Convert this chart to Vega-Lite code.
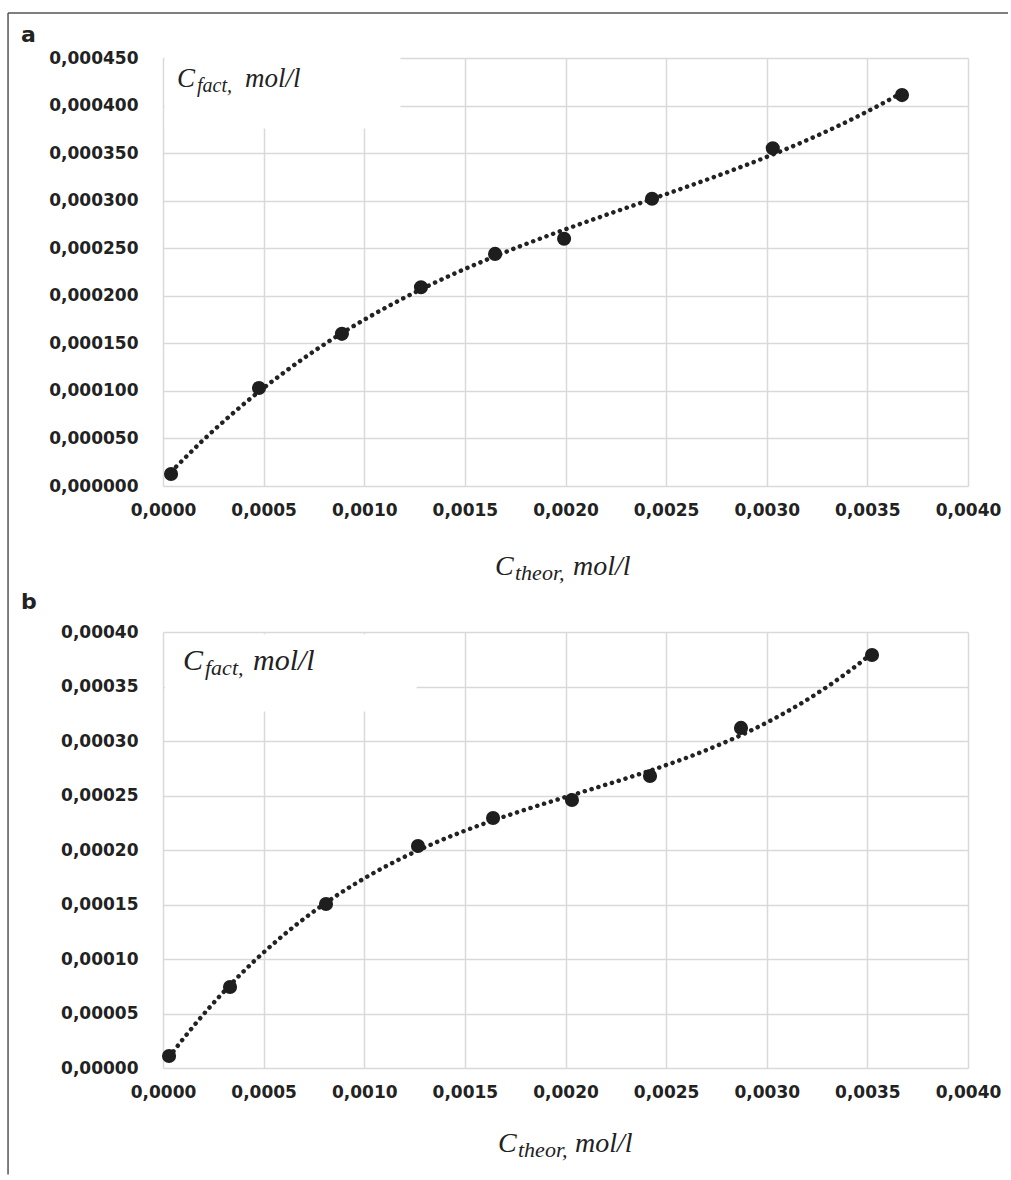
{
  "$schema": "https://vega.github.io/schema/vega-lite/v6.json",
  "background": "white",
  "padding": {"left": 7, "top": 12, "right": 0, "bottom": 0},
  "config": {
    "locale": {"number": {"decimal": ",", "thousands": " ", "grouping": [3], "currency": ["", ""]}},
    "view": {"stroke": null},
    "axis": {
      "grid": true, "gridColor": "#d9d9d9", "gridWidth": 1.5, "domain": false, "ticks": false,
      "labelFlush": false, "labelOverlap": false,
      "labelFont": "DejaVu Sans", "labelFontWeight": "bold", "labelFontSize": 17, "labelColor": "#222222", "title": null
    }
  },
  "datasets": {
    "a": [
      {"t": 0.00004, "c": 0.0000126},
      {"t": 0.000477, "c": 0.000103},
      {"t": 0.000889, "c": 0.00016},
      {"t": 0.001282, "c": 0.000209},
      {"t": 0.00165, "c": 0.000244},
      {"t": 0.001993, "c": 0.00026},
      {"t": 0.00243, "c": 0.000302},
      {"t": 0.00303, "c": 0.000355},
      {"t": 0.003672, "c": 0.000411}
    ],
    "b": [
      {"t": 0.00003, "c": 0.000011},
      {"t": 0.000333, "c": 0.0000743},
      {"t": 0.00081, "c": 0.0001505},
      {"t": 0.001267, "c": 0.0002037},
      {"t": 0.00164, "c": 0.0002294},
      {"t": 0.002032, "c": 0.0002459},
      {"t": 0.00242, "c": 0.0002679},
      {"t": 0.002872, "c": 0.000312},
      {"t": 0.003523, "c": 0.0003789}
    ]
  },
  "bounds": "flush",
  "spacing": 146,
  "vconcat": [
    {
      "width": 805,
      "height": 428,
      "layer": [
        {
          "data": {"values": [{}]},
          "mark": {"type": "rect", "fill": "white"},
          "encoding": {"x": {"datum": 0.000008}, "x2": {"datum": 0.00118}, "y": {"datum": 0.000376}, "y2": {"datum": 0.00046}}
        },
        {
          "data": {"name": "a"},
          "transform": [{"regression": "c", "on": "t", "method": "poly", "order": 3}],
          "mark": {"type": "line", "color": "#222222", "strokeWidth": 4.5, "strokeDash": [0.1, 7], "strokeCap": "round"},
          "encoding": {
            "x": {"field": "t", "type": "quantitative", "scale": {"domain": [0, 0.004]},
              "axis": {"values": [0, 0.0005, 0.001, 0.0015, 0.002, 0.0025, 0.003, 0.0035, 0.004], "format": ".4f", "labelPadding": 16}},
            "y": {"field": "c", "type": "quantitative", "scale": {"domain": [0, 0.00045]},
              "axis": {"values": [0, 0.00005, 0.0001, 0.00015, 0.0002, 0.00025, 0.0003, 0.00035, 0.0004, 0.00045], "format": ".6f", "labelPadding": 25}}
          }
        },
        {
          "data": {"name": "a"},
          "mark": {"type": "circle", "size": 200, "color": "#1e1e1e", "opacity": 1},
          "encoding": {
            "x": {"field": "t", "type": "quantitative", "scale": {"domain": [0, 0.004]}},
            "y": {"field": "c", "type": "quantitative", "scale": {"domain": [0, 0.00045]}}
          }
        },
        {
          "data": {"values": [{}]},
          "mark": {"type": "text", "text": "a", "font": "DejaVu Sans", "fontWeight": "bold", "fontSize": 22, "color": "#222222", "align": "left", "baseline": "alphabetic", "dx": -142, "dy": -16},
          "encoding": {"x": {"datum": 0}, "y": {"datum": 0.00045}}
        },
        {
          "data": {"values": [{}]},
          "mark": {"type": "text", "text": "C", "font": "Liberation Serif", "fontStyle": "italic", "fontSize": 27, "color": "#222222", "align": "left", "baseline": "alphabetic", "dx": 14, "dy": 29},
          "encoding": {"x": {"datum": 0}, "y": {"datum": 0.00045}}
        },
        {
          "data": {"values": [{}]},
          "mark": {"type": "text", "text": "fact,", "font": "Liberation Serif", "fontStyle": "italic", "fontSize": 20, "color": "#222222", "align": "left", "baseline": "alphabetic", "dx": 34, "dy": 34},
          "encoding": {"x": {"datum": 0}, "y": {"datum": 0.00045}}
        },
        {
          "data": {"values": [{}]},
          "mark": {"type": "text", "text": "mol/l", "font": "Liberation Serif", "fontStyle": "italic", "fontSize": 27, "color": "#222222", "align": "left", "baseline": "alphabetic", "dx": 82, "dy": 29},
          "encoding": {"x": {"datum": 0}, "y": {"datum": 0.00045}}
        },
        {
          "data": {"values": [{}]},
          "mark": {"type": "text", "text": "C", "font": "Liberation Serif", "fontStyle": "italic", "fontSize": 28, "color": "#222222", "align": "left", "baseline": "alphabetic", "dx": 332, "dy": 89},
          "encoding": {"x": {"datum": 0}, "y": {"datum": 0}}
        },
        {
          "data": {"values": [{}]},
          "mark": {"type": "text", "text": "theor,", "font": "Liberation Serif", "fontStyle": "italic", "fontSize": 22, "color": "#222222", "align": "left", "baseline": "alphabetic", "dx": 352, "dy": 94},
          "encoding": {"x": {"datum": 0}, "y": {"datum": 0}}
        },
        {
          "data": {"values": [{}]},
          "mark": {"type": "text", "text": "mol/l", "font": "Liberation Serif", "fontStyle": "italic", "fontSize": 28, "color": "#222222", "align": "left", "baseline": "alphabetic", "dx": 410, "dy": 89},
          "encoding": {"x": {"datum": 0}, "y": {"datum": 0}}
        },
        {
          "data": {"values": [{}]},
          "mark": {"type": "rule", "color": "#555555", "strokeWidth": 1.5},
          "encoding": {"x": {"datum": -0.00077}, "y": {"datum": 0.0004973}, "y2": {"datum": -0.000724}}
        },
        {
          "data": {"values": [{}]},
          "mark": {"type": "rule", "color": "#555555", "strokeWidth": 1.5},
          "encoding": {"x": {"datum": -0.00077}, "x2": {"datum": 0.0041988}, "y": {"datum": 0.0004973}}
        }
      ]
    },
    {
      "width": 805,
      "height": 436,
      "layer": [
        {
          "data": {"values": [{}]},
          "mark": {"type": "rect", "fill": "white"},
          "encoding": {"x": {"datum": 0.00001}, "x2": {"datum": 0.00126}, "y": {"datum": 0.000327}, "y2": {"datum": 0.000398}}
        },
        {
          "data": {"name": "b"},
          "transform": [{"regression": "c", "on": "t", "method": "poly", "order": 3}],
          "mark": {"type": "line", "color": "#222222", "strokeWidth": 4.5, "strokeDash": [0.1, 7], "strokeCap": "round"},
          "encoding": {
            "x": {"field": "t", "type": "quantitative", "scale": {"domain": [0, 0.004]},
              "axis": {"values": [0, 0.0005, 0.001, 0.0015, 0.002, 0.0025, 0.003, 0.0035, 0.004], "format": ".4f", "labelPadding": 16}},
            "y": {"field": "c", "type": "quantitative", "scale": {"domain": [0, 0.0004]},
              "axis": {"values": [0, 0.00005, 0.0001, 0.00015, 0.0002, 0.00025, 0.0003, 0.00035, 0.0004], "format": ".5f", "labelPadding": 25}}
          }
        },
        {
          "data": {"name": "b"},
          "mark": {"type": "circle", "size": 200, "color": "#1e1e1e", "opacity": 1},
          "encoding": {
            "x": {"field": "t", "type": "quantitative", "scale": {"domain": [0, 0.004]}},
            "y": {"field": "c", "type": "quantitative", "scale": {"domain": [0, 0.0004]}}
          }
        },
        {
          "data": {"values": [{}]},
          "mark": {"type": "text", "text": "b", "font": "DejaVu Sans", "fontWeight": "bold", "fontSize": 22, "color": "#222222", "align": "left", "baseline": "alphabetic", "dx": -142, "dy": -23},
          "encoding": {"x": {"datum": 0}, "y": {"datum": 0.0004}}
        },
        {
          "data": {"values": [{}]},
          "mark": {"type": "text", "text": "C", "font": "Liberation Serif", "fontStyle": "italic", "fontSize": 30, "color": "#222222", "align": "left", "baseline": "alphabetic", "dx": 20, "dy": 38},
          "encoding": {"x": {"datum": 0}, "y": {"datum": 0.0004}}
        },
        {
          "data": {"values": [{}]},
          "mark": {"type": "text", "text": "fact,", "font": "Liberation Serif", "fontStyle": "italic", "fontSize": 22, "color": "#222222", "align": "left", "baseline": "alphabetic", "dx": 42, "dy": 43},
          "encoding": {"x": {"datum": 0}, "y": {"datum": 0.0004}}
        },
        {
          "data": {"values": [{}]},
          "mark": {"type": "text", "text": "mol/l", "font": "Liberation Serif", "fontStyle": "italic", "fontSize": 30, "color": "#222222", "align": "left", "baseline": "alphabetic", "dx": 90, "dy": 38},
          "encoding": {"x": {"datum": 0}, "y": {"datum": 0.0004}}
        },
        {
          "data": {"values": [{}]},
          "mark": {"type": "text", "text": "C", "font": "Liberation Serif", "fontStyle": "italic", "fontSize": 28, "color": "#222222", "align": "left", "baseline": "alphabetic", "dx": 335, "dy": 84},
          "encoding": {"x": {"datum": 0}, "y": {"datum": 0}}
        },
        {
          "data": {"values": [{}]},
          "mark": {"type": "text", "text": "theor,", "font": "Liberation Serif", "fontStyle": "italic", "fontSize": 22, "color": "#222222", "align": "left", "baseline": "alphabetic", "dx": 355, "dy": 89},
          "encoding": {"x": {"datum": 0}, "y": {"datum": 0}}
        },
        {
          "data": {"values": [{}]},
          "mark": {"type": "text", "text": "mol/l", "font": "Liberation Serif", "fontStyle": "italic", "fontSize": 28, "color": "#222222", "align": "left", "baseline": "alphabetic", "dx": 412, "dy": 84},
          "encoding": {"x": {"datum": 0}, "y": {"datum": 0}}
        }
      ]
    }
  ]
}
